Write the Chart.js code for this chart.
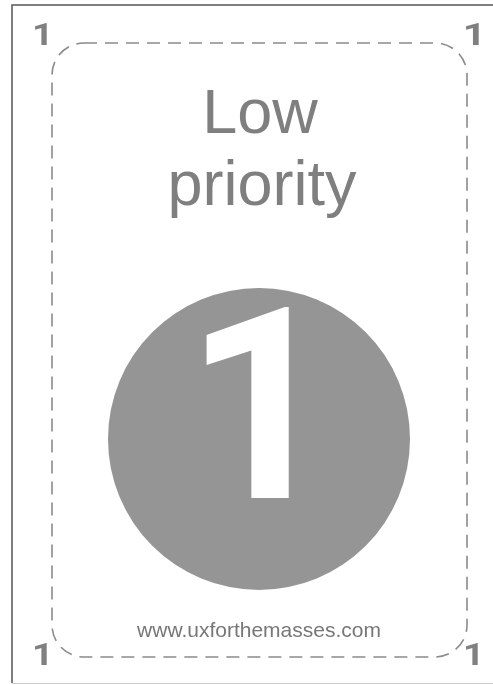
<!DOCTYPE html>
<html>
<head>
<meta charset="utf-8">
<title>Low priority</title>
<script src="https://cdn.jsdelivr.net/npm/chart.js@4.4.1/dist/chart.umd.min.js"></script>
<style>
    html, body { margin: 0; padding: 0; background: #fff; }
    #card { display: block; width: 493px; height: 685px; }
</style>
</head>
<body>
<canvas id="card" width="493" height="685"></canvas>
<script>
// Données de la carte
const categories = ['Low priority'];
const values = [1];
const titleLines = ['Low', 'priority'];
const cornerLabels = ['1', '1', '1', '1'];
const centerLabel = '1';
const footerText = 'www.uxforthemasses.com';

const BOLD_FONT = '"Roboto", "Liberation Sans", Arial, sans-serif';

/**
 * Dessine un texte ajusté à une boîte (encre) donnée
 */
function fitText(ctx, text, left, top, right, bottom) {
    ctx.save();
    ctx.font = 'bold 100px ' + BOLD_FONT;
    ctx.textAlign = 'left';
    ctx.textBaseline = 'alphabetic';
    const m = ctx.measureText(text);
    const inkW = m.actualBoundingBoxLeft + m.actualBoundingBoxRight;
    const inkH = m.actualBoundingBoxAscent + m.actualBoundingBoxDescent;
    const sx = (right - left) / inkW;
    const sy = (bottom - top) / inkH;
    ctx.translate(left, bottom);
    ctx.scale(sx, sy);
    ctx.fillText(text, m.actualBoundingBoxLeft, -m.actualBoundingBoxDescent);
    ctx.restore();
}

/**
 * Plugin pour le cadre, les textes et le chiffre central
 */
const cardDecor = {
    id: 'cardDecor',
    beforeDraw(chart) {
        const ctx = chart.ctx;
        ctx.save();
        // Cadre extérieur
        ctx.strokeStyle = '#555';
        ctx.lineWidth = 1.5;
        ctx.beginPath();
        ctx.moveTo(493, 5);
        ctx.lineTo(12, 5);
        ctx.lineTo(12, 683);
        ctx.stroke();
        ctx.strokeStyle = '#ccc';
        ctx.lineWidth = 1;
        ctx.beginPath();
        ctx.moveTo(12, 683.5);
        ctx.lineTo(493, 683.5);
        ctx.stroke();

        // Cadre pointillé arrondi
        ctx.strokeStyle = '#8a8a8a';
        ctx.lineWidth = 1.6;
        ctx.setLineDash([13, 8]);
        ctx.beginPath();
        ctx.roundRect(52, 43, 415, 614, 32);
        ctx.stroke();
        ctx.setLineDash([]);

        // Titre
        ctx.fillStyle = '#7f7f7f';
        ctx.textAlign = 'center';
        ctx.textBaseline = 'alphabetic';
        ctx.font = '63px "Liberation Sans", Arial, sans-serif';
        ctx.fillText(titleLines[0], 260, 133);
        ctx.fillText(titleLines[1], 262, 205);

        // Pied de page
        ctx.fillStyle = '#777';
        ctx.font = '21px "Liberation Sans", Arial, sans-serif';
        ctx.fillText(footerText, 259, 637);

        // Chiffres dans les coins
        ctx.fillStyle = '#808080';
        fitText(ctx, cornerLabels[0], 35, 23, 47, 45);
        fitText(ctx, cornerLabels[1], 466, 23, 479, 45);
        fitText(ctx, cornerLabels[2], 35, 643, 47, 665);
        fitText(ctx, cornerLabels[3], 466, 643, 478, 665);
        ctx.restore();
    },
    afterDatasetsDraw(chart) {
        const ctx = chart.ctx;
        ctx.save();
        ctx.fillStyle = '#fff';
        fitText(ctx, centerLabel, 206, 305, 291, 498);
        ctx.restore();
    }
};

new Chart(document.getElementById('card'), {
    type: 'pie',
    data: {
        labels: categories,
        datasets: [{
            data: values,
            backgroundColor: ['#959595'],
            borderWidth: 0
        }]
    },
    options: {
        responsive: false,
        animation: false,
        layout: {
            padding: { left: 108, right: 83, top: 288, bottom: 95 }
        },
        plugins: {
            legend: { display: false },
            tooltip: { enabled: false }
        }
    },
    plugins: [cardDecor]
});
</script>
</body>
</html>
